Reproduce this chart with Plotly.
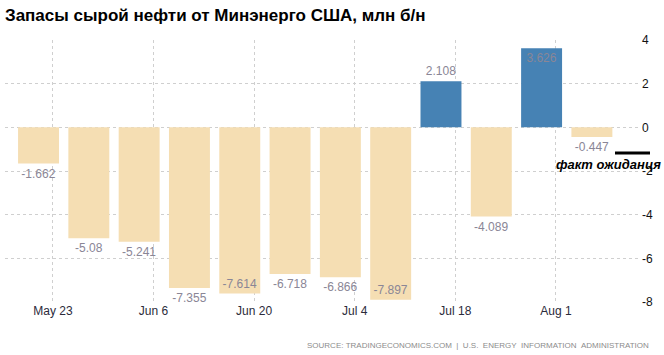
import plotly.graph_objects as go

dates = ["2018-05-21", "2018-05-28", "2018-06-04", "2018-06-11", "2018-06-18", "2018-06-25",
         "2018-07-02", "2018-07-09", "2018-07-16", "2018-07-23", "2018-07-30", "2018-08-06"]
values = [-1.662, -5.08, -5.241, -7.355, -7.614, -6.718, -6.866, -7.897, 2.108, -4.089, 3.626, -0.447]
labels = ["-1.662", "-5.08", "-5.241", "-7.355", "-7.614", "-6.718", "-6.866", "-7.897",
          "2.108", "-4.089", "3.626", "-0.447"]
tick_dates = ["2018-05-23", "2018-06-06", "2018-06-20", "2018-07-04", "2018-07-18", "2018-08-01"]
tick_labels = ["May 23", "Jun 6", "Jun 20", "Jul 4", "Jul 18", "Aug 1"]
y_ticks = [4, 2, 0, -2, -4, -6, -8]

colors = ["#4682B4" if v > 0 else "#F5DEB3" for v in values]
positions = []
for v in values:
    if v > 3 or v < -7.5:
        positions.append("inside")
    else:
        positions.append("outside")

fig = go.Figure(go.Bar(
    x=dates, y=values, marker=dict(color=colors, line=dict(width=0)),
    width=5.7 * 86400000,
    text=labels, textposition=positions, insidetextanchor="end",
    textfont=dict(family="Liberation Sans, Arial", size=12, color="#8a8696"),
    constraintext="none", cliponaxis=False, hoverinfo="skip",
))

fig.update_layout(
    width=664, height=355,
    margin=dict(l=5, r=23, t=40, b=53),
    plot_bgcolor="white", paper_bgcolor="white",
    showlegend=False,
    xaxis=dict(type="date", range=["2018-05-16 08:00", "2018-08-12 20:00"],
               tickvals=tick_dates, ticktext=tick_labels,
               showgrid=True, gridcolor="#cfcfcf", griddash="dot", gridwidth=1,
               zeroline=False, showline=False, ticks="",
               tickfont=dict(family="Liberation Sans, Arial", size=12, color="#2b2b3b")),
    yaxis=dict(range=[-8, 4], side="right", tickvals=y_ticks,
               ticktext=[str(t) for t in y_ticks],
               showgrid=True, gridcolor="#cfcfcf", griddash="dot", gridwidth=1,
               zeroline=False, showline=False, ticks="",
               tickfont=dict(family="Liberation Sans, Arial", size=12, color="#111")),
)

fig.add_annotation(text="<b>Запасы сырой нефти от Минэнерго США, млн б/н</b>",
                   xref="paper", yref="paper", x=-0.003, y=1.0, yshift=25,
                   xanchor="left", yanchor="middle", showarrow=False,
                   font=dict(family="Liberation Sans, Arial", size=17, color="#000"))
fig.add_annotation(text="SOURCE:&nbsp;TRADINGECONOMICS.COM&nbsp;&nbsp;|&nbsp;&nbsp;U.S.&nbsp;&nbsp;ENERGY&nbsp;&nbsp;INFORMATION&nbsp;&nbsp;ADMINISTRATION",
                   xref="paper", yref="paper", x=1.0, y=0, yshift=-43, xshift=10,
                   xanchor="right", yanchor="middle", showarrow=False,
                   font=dict(family="Liberation Sans, Arial", size=8, color="#8c8c8c"))
fig.add_annotation(text="<b><i>факт ожиданця</i></b>",
                   xref="paper", yref="paper", x=(608 - 5) / 636, y=(302 - 164) / 262,
                   xanchor="center", yanchor="middle", showarrow=False,
                   font=dict(family="Liberation Sans, Arial", size=13, color="#000"))
fig.add_shape(type="line", xref="paper", yref="paper",
              x0=(615 - 5) / 636, x1=(650 - 5) / 636,
              y0=(302 - 153) / 262, y1=(302 - 153) / 262,
              line=dict(color="#000", width=3))

fig.write_html("out.html")
